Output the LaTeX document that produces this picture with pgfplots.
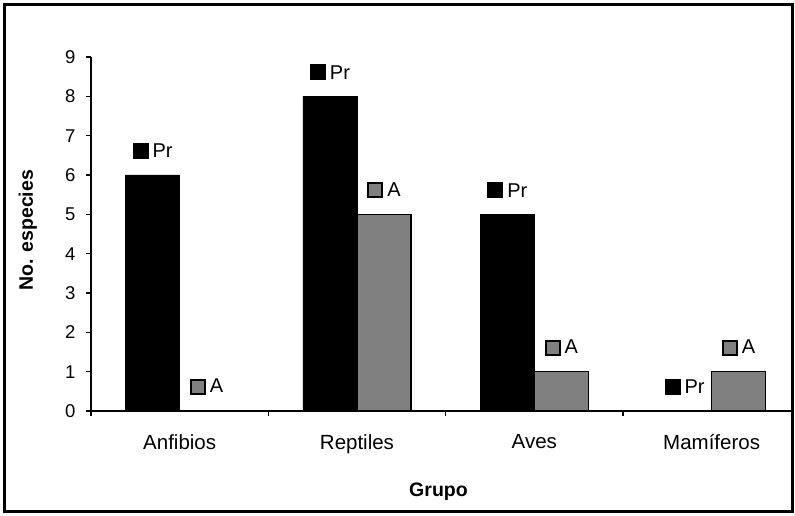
\documentclass[border=0pt]{standalone}
\usepackage{fontspec}
\setmainfont{Liberation Sans}
\usepackage{pgfplots}
\pgfplotsset{compat=1.18}
\definecolor{barGray}{HTML}{808080}
\newcommand{\prkey}{\raisebox{-1bp}{\rule{16bp}{16bp}}}
\newcommand{\akey}{{\setlength{\fboxsep}{0pt}\setlength{\fboxrule}{2bp}\raisebox{0bp}{\fcolorbox{black}{barGray}{\rule{0pt}{12bp}\hspace{12bp}}}}}
\begin{document}
\begin{tikzpicture}[x=1bp,y=1bp]
\useasboundingbox (-91,-105) rectangle (704,411);
\begin{axis}[
  at={(0,0)}, anchor=south west,
  width=702bp, height=354bp, scale only axis,
  xmin=-0.5, xmax=3.459, ymin=0, ymax=9,
  ytick={0,...,9},
  xtick={-0.5,0.5,1.5,2.5},
  xticklabels={},
  extra x ticks={0,1,2,3},
  extra x tick labels={Anfibios,Reptiles,Aves,Mamíferos},
  extra x tick style={major tick length=0pt, xticklabel style={yshift=-20bp, font=\fontsize{20.5bp}{24bp}\selectfont}},
  axis x line*=bottom, axis y line*=left,
  x axis line style={-}, y axis line style={-},
  axis line style={line width=1.6bp},
  tick align=outside, major tick length=5bp,
  tick style={line width=1.4bp, black},
  xtick pos=bottom, ytick pos=left,
  /pgf/number format/assume math mode=true,
  yticklabel style={font=\fontsize{18.5bp}{22bp}\selectfont, xshift=-7bp},
  ylabel={\textbf{No. especies}},
  xlabel={\textbf{Grupo}},
  label style={font=\fontsize{19.5bp}{23bp}\selectfont},
  ylabel style={at={(axis description cs:-0.09,0.51)}, anchor=center},
  xlabel style={at={(axis description cs:0.495,0)}, anchor=center, yshift=-81bp},
  ybar, bar width=54bp, bar shift=0pt,
  every node near coord/.append style={anchor=center, yshift=24bp, font=\fontsize{20bp}{24bp}\selectfont, text=black},
  clip=false,
]
\addplot[fill=black, draw=black, line width=0.8bp,
  nodes near coords={\prkey\hspace{4bp}Pr}]
  coordinates {(-0.1523,6) (0.8477,8) (1.8477,5) (2.8477,0)};
\addplot[fill=barGray, draw=black, line width=1.2bp,
  nodes near coords={\akey\hspace{4bp}A}]
  coordinates {(0.1523,0) (1.1523,5) (2.1523,1) (3.1523,1)};
\end{axis}
\draw[line width=3bp] (-86,-101) rectangle (701,406);
\end{tikzpicture}
\end{document}
